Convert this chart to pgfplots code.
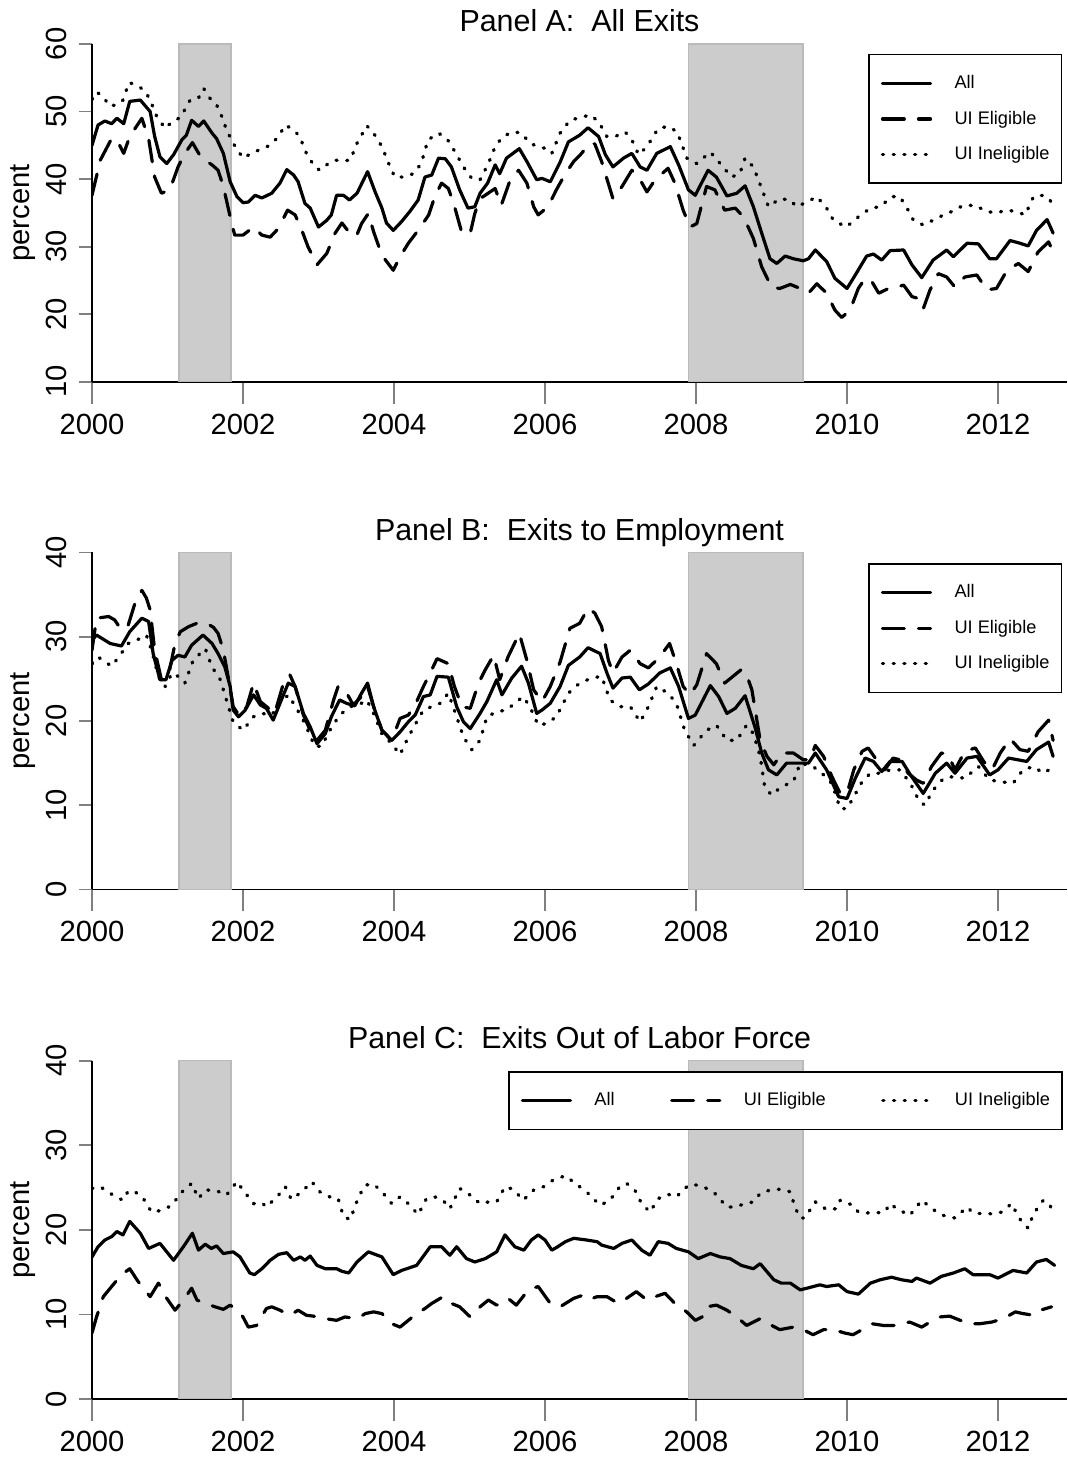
\documentclass[border=0pt]{standalone}
\usepackage{fontspec}
\setmainfont{Liberation Sans}
\usepackage{pgfplots}
\pgfplotsset{compat=1.18}

\pgfplotsset{
  rpanel/.style={
    scale only axis, width=487.5pt,
    xmin=2000, xmax=2012.914,
    axis x line*=bottom, axis y line*=left,
    axis line style={line width=0.9pt},
    tick align=outside,
    xtick={2000,2002,2004,2006,2008,2010,2012},
    xticklabels={2000,2002,2004,2006,2008,2010,2012},
    xtick style={line width=0.9pt, /pgfplots/major tick length=11pt},
    ytick style={line width=0.9pt, /pgfplots/major tick length=6.7pt},
    ticklabel style={font=\fontsize{14.6}{16}\selectfont},
    xticklabel style={anchor=north, inner sep=0pt},
    yticklabel style={rotate=90, anchor=south, inner sep=0pt},
    xticklabel shift=11.5pt, yticklabel shift=8.3pt,
    ylabel={percent},
    every axis y label/.style={at={(axis description cs:-0.0646,0.5)}, rotate=90, anchor=base, font=\fontsize{14.6}{16}\selectfont},
    title style={font=\fontsize{15.2}{17}\selectfont, at={(axis description cs:0.5,1)}, anchor=base, yshift=0pt, inner sep=0pt},
    legend cell align=left,
    legend image code/.code={\path[draw=none,fill=none] (0pt,-5pt) rectangle (36pt,5pt); \draw[##1] (0pt,0pt) -- (24pt,0pt);},
    legend style={draw=black, line width=0.8pt, fill=white, inner xsep=6pt, inner ysep=9.4pt, row sep=7.75pt, font=\fontsize{9.1}{10}\selectfont, nodes={inner sep=0pt}},
  },
  allline/.style={black, line width=1.6pt, line join=round, line cap=round},
  eligline/.style={black, line width=1.6pt, line join=round, line cap=round, dash pattern=on 10.9pt off 7.1pt},
  inelline/.style={black, line width=1.7pt, line join=round, line cap=round, dash pattern=on 0.5pt off 4.85pt},
  recess/.style={draw=black!27, fill=black!20, line width=0.8pt, forget plot},
}

\begin{document}
\begin{tikzpicture}
\useasboundingbox (0,0) rectangle (533.5pt,730pt);

% ---------------- Panel A
\begin{axis}[rpanel, at={(46pt,539.15pt)}, anchor=south west, height=168.85pt,
  ymin=10, ymax=60, ytick={10,20,30,40,50,60}, yticklabels={10,20,30,40,50,60},
  title={Panel A:\ \ All Exits},
  legend style={at={(0.7959,0.9707)}, anchor=north west}]
\addplot[recess] coordinates {(2001.15,10) (2001.15,60) (2001.84,60) (2001.84,10)} -- cycle;
\addplot[recess] coordinates {(2007.90,10) (2007.90,60) (2009.42,60) (2009.42,10)} -- cycle;
\addplot[allline] coordinates {
(2000.00,45.0)(2000.08,48.0)(2000.17,48.6)(2000.26,48.2)(2000.33,49.0)(2000.42,48.2)(2000.50,51.5)(2000.64,51.7)(2000.77,50.0)(2000.83,46.3)(2000.90,43.3)(2000.99,42.3)(2001.08,43.6)(2001.19,45.8)(2001.25,46.5)(2001.32,48.7)(2001.41,47.8)(2001.48,48.6)(2001.59,46.8)(2001.65,46.0)(2001.74,43.8)(2001.83,39.6)(2001.92,37.4)(2002.00,36.5)(2002.07,36.6)(2002.16,37.6)(2002.25,37.2)(2002.38,37.9)(2002.49,39.4)(2002.58,41.4)(2002.67,40.6)(2002.73,39.6)(2002.82,36.4)(2002.89,35.7)(2003.00,32.9)(2003.11,33.9)(2003.17,34.7)(2003.24,37.6)(2003.33,37.6)(2003.41,36.9)(2003.51,37.9)(2003.65,41.1)(2003.75,38.1)(2003.84,35.7)(2003.90,33.5)(2003.99,32.4)(2004.10,33.7)(2004.21,35.2)(2004.32,36.9)(2004.41,40.3)(2004.50,40.6)(2004.59,43.1)(2004.68,43.0)(2004.76,41.8)(2004.87,38.4)(2004.98,35.7)(2005.07,35.9)(2005.14,37.9)(2005.24,39.4)(2005.34,42.1)(2005.40,40.8)(2005.49,43.1)(2005.66,44.5)(2005.76,42.6)(2005.89,39.9)(2005.96,40.1)(2006.07,39.6)(2006.20,42.5)(2006.31,45.5)(2006.46,46.5)(2006.57,47.6)(2006.71,46.3)(2006.80,43.6)(2006.90,41.8)(2007.04,43.1)(2007.15,43.8)(2007.26,41.8)(2007.35,41.3)(2007.48,43.8)(2007.66,44.8)(2007.77,42.1)(2007.90,38.4)(2007.99,37.6)(2008.16,41.3)(2008.27,40.3)(2008.41,37.5)(2008.54,37.9)(2008.65,39.0)(2008.76,35.9)(2008.87,32.0)(2008.98,28.2)(2009.07,27.5)(2009.18,28.6)(2009.29,28.2)(2009.42,27.9)(2009.49,28.2)(2009.58,29.5)(2009.73,27.8)(2009.84,25.3)(2010.00,23.8)(2010.11,25.8)(2010.26,28.6)(2010.35,28.9)(2010.46,28.0)(2010.57,29.4)(2010.75,29.5)(2010.86,27.3)(2010.99,25.4)(2011.14,28.0)(2011.32,29.5)(2011.41,28.5)(2011.59,30.5)(2011.74,30.4)(2011.89,28.2)(2011.98,28.2)(2012.16,30.9)(2012.29,30.5)(2012.40,30.1)(2012.51,32.4)(2012.65,34.0)(2012.73,32.0)
};
\addlegendentry{All}
\addplot[eligline] coordinates {
(2000.00,37.6)(2000.11,42.8)(2000.26,46.0)(2000.33,45.8)(2000.42,43.8)(2000.50,46.3)(2000.66,49.0)(2000.75,46.0)(2000.83,40.3)(2000.92,37.9)(2001.03,38.4)(2001.14,41.8)(2001.23,43.8)(2001.33,45.4)(2001.45,43.1)(2001.59,42.1)(2001.67,41.3)(2001.74,38.9)(2001.83,34.4)(2001.89,31.7)(2002.00,31.7)(2002.14,32.9)(2002.25,31.7)(2002.36,31.4)(2002.47,32.7)(2002.59,35.4)(2002.69,34.7)(2002.78,32.4)(2002.86,30.0)(2002.98,27.3)(2003.11,29.0)(2003.22,32.0)(2003.31,33.5)(2003.40,32.2)(2003.50,31.5)(2003.57,33.4)(2003.66,34.9)(2003.73,32.2)(2003.84,28.7)(2003.99,26.5)(2004.08,28.5)(2004.19,30.5)(2004.34,32.7)(2004.46,34.7)(2004.54,37.4)(2004.63,39.4)(2004.72,38.6)(2004.79,36.4)(2004.90,32.0)(2005.01,32.0)(2005.07,34.9)(2005.14,37.1)(2005.34,38.6)(2005.42,36.1)(2005.54,39.9)(2005.65,41.3)(2005.76,39.4)(2005.85,35.9)(2005.91,34.7)(2006.04,35.9)(2006.15,38.4)(2006.27,40.8)(2006.38,42.6)(2006.46,43.5)(2006.60,45.3)(2006.66,45.2)(2006.75,42.6)(2006.90,37.1)(2007.02,38.9)(2007.15,41.3)(2007.24,40.3)(2007.35,38.1)(2007.46,39.9)(2007.63,41.6)(2007.72,39.4)(2007.83,35.4)(2007.92,32.9)(2008.01,33.4)(2008.14,38.9)(2008.25,38.4)(2008.38,35.4)(2008.52,35.7)(2008.63,34.4)(2008.76,31.2)(2008.87,27.0)(2009.00,24.0)(2009.11,23.8)(2009.25,24.4)(2009.38,23.8)(2009.49,23.1)(2009.60,24.5)(2009.73,23.1)(2009.84,20.6)(2009.93,19.5)(2010.04,20.6)(2010.15,23.8)(2010.24,25.3)(2010.33,24.8)(2010.42,23.1)(2010.55,23.8)(2010.66,24.0)(2010.75,24.3)(2010.86,22.6)(2010.95,22.3)(2011.01,20.8)(2011.10,23.6)(2011.21,26.0)(2011.32,25.5)(2011.43,24.0)(2011.56,25.5)(2011.72,25.8)(2011.85,23.6)(2011.98,23.8)(2012.12,26.5)(2012.27,27.5)(2012.40,26.3)(2012.53,29.2)(2012.67,30.7)(2012.73,29.2)
};
\addlegendentry{UI Eligible}
\addplot[inelline] coordinates {
(2000.00,51.8)(2000.06,52.9)(2000.15,52.2)(2000.23,50.8)(2000.33,51.0)(2000.41,51.7)(2000.49,54.3)(2000.59,53.9)(2000.70,53.1)(2000.77,51.7)(2000.86,49.2)(2000.97,47.5)(2001.06,48.5)(2001.17,49.1)(2001.30,51.7)(2001.41,52.0)(2001.48,53.4)(2001.56,52.0)(2001.65,51.0)(2001.73,49.0)(2001.78,47.3)(2001.87,45.3)(2002.00,43.1)(2002.11,43.8)(2002.25,44.5)(2002.36,45.0)(2002.47,46.3)(2002.56,48.0)(2002.67,47.3)(2002.75,46.3)(2002.84,43.8)(2002.95,41.8)(2003.02,41.3)(2003.13,42.3)(2003.22,42.8)(2003.33,42.7)(2003.42,42.8)(2003.51,45.3)(2003.64,47.9)(2003.73,46.8)(2003.84,44.8)(2003.93,42.3)(2004.01,40.3)(2004.12,40.3)(2004.26,40.8)(2004.36,42.3)(2004.45,45.8)(2004.59,46.8)(2004.70,46.0)(2004.81,44.0)(2004.92,41.8)(2005.03,40.1)(2005.14,39.9)(2005.25,42.3)(2005.34,44.8)(2005.44,46.3)(2005.58,47.0)(2005.69,46.8)(2005.80,45.3)(2005.91,44.8)(2006.02,44.5)(2006.09,43.8)(2006.20,46.8)(2006.33,48.7)(2006.46,49.1)(2006.60,49.5)(2006.71,48.5)(2006.82,46.3)(2006.93,46.3)(2007.06,47.0)(2007.15,45.8)(2007.24,43.6)(2007.35,44.8)(2007.50,47.5)(2007.63,47.8)(2007.75,47.0)(2007.88,43.1)(2008.01,42.3)(2008.19,44.0)(2008.32,42.3)(2008.47,40.3)(2008.58,40.8)(2008.65,43.1)(2008.76,41.8)(2008.87,38.6)(2008.96,35.9)(2009.11,37.1)(2009.25,36.9)(2009.33,35.9)(2009.47,36.6)(2009.60,37.4)(2009.73,35.7)(2009.82,33.9)(2009.99,32.9)(2010.15,34.4)(2010.31,35.7)(2010.44,35.9)(2010.59,37.4)(2010.70,37.4)(2010.81,35.4)(2010.88,33.9)(2011.01,33.2)(2011.14,33.9)(2011.28,34.7)(2011.39,35.2)(2011.54,36.1)(2011.70,36.1)(2011.85,35.2)(2011.98,35.0)(2012.12,35.4)(2012.23,35.2)(2012.36,34.7)(2012.47,37.4)(2012.60,37.6)(2012.69,36.9)(2012.73,35.7)
};
\addlegendentry{UI Ineligible}
\end{axis}

% ---------------- Panel B
\begin{axis}[rpanel, at={(46pt,285.25pt)}, anchor=south west, height=168.5pt,
  ymin=0, ymax=40, ytick={0,10,20,30,40}, yticklabels={0,10,20,30,40},
  title={Panel B:\ \ Exits to Employment},
  legend style={at={(0.7959,0.9688)}, anchor=north west}]
\addplot[recess] coordinates {(2001.15,0) (2001.15,40) (2001.84,40) (2001.84,0)} -- cycle;
\addplot[recess] coordinates {(2007.90,0) (2007.90,40) (2009.42,40) (2009.42,0)} -- cycle;
\addplot[allline] coordinates {
(2000.00,29.6)(2000.06,30.2)(2000.24,29.2)(2000.39,28.9)(2000.50,30.6)(2000.66,32.2)(2000.75,31.8)(2000.81,28.0)(2000.90,24.9)(2000.98,24.9)(2001.06,27.2)(2001.14,27.8)(2001.23,27.6)(2001.32,29.0)(2001.47,30.2)(2001.59,29.2)(2001.67,28.0)(2001.76,26.4)(2001.83,24.1)(2001.87,21.3)(2001.94,20.5)(2002.03,21.3)(2002.14,23.1)(2002.23,21.9)(2002.31,21.5)(2002.40,20.1)(2002.49,22.1)(2002.60,24.5)(2002.69,24.1)(2002.80,20.9)(2002.89,19.3)(2002.98,17.3)(2003.09,18.5)(2003.17,20.5)(2003.28,22.5)(2003.37,22.1)(2003.48,21.8)(2003.57,23.3)(2003.65,24.5)(2003.73,21.7)(2003.84,18.9)(2003.97,17.7)(2004.08,18.7)(2004.19,19.9)(2004.28,20.7)(2004.39,22.9)(2004.48,23.1)(2004.57,25.3)(2004.72,25.2)(2004.83,21.7)(2004.92,19.9)(2005.01,19.1)(2005.14,20.9)(2005.23,22.3)(2005.36,24.9)(2005.43,23.1)(2005.56,25.1)(2005.69,26.5)(2005.78,24.5)(2005.89,20.9)(2005.96,21.3)(2006.07,22.1)(2006.20,24.1)(2006.31,26.6)(2006.46,27.6)(2006.57,28.7)(2006.73,28.0)(2006.82,25.7)(2006.90,23.9)(2007.02,25.1)(2007.13,25.2)(2007.25,23.7)(2007.37,24.4)(2007.52,25.7)(2007.66,26.3)(2007.77,24.1)(2007.90,20.3)(2007.99,20.7)(2008.19,24.2)(2008.30,22.9)(2008.41,20.9)(2008.52,21.5)(2008.65,23.0)(2008.78,19.3)(2008.87,16.2)(2008.96,14.2)(2009.07,13.6)(2009.20,15.0)(2009.38,15.0)(2009.49,15.0)(2009.58,16.2)(2009.73,14.2)(2009.89,11.0)(2010.00,10.8)(2010.11,13.2)(2010.24,15.6)(2010.35,15.2)(2010.46,14.0)(2010.57,15.2)(2010.73,15.2)(2010.84,13.6)(2011.01,11.4)(2011.17,13.8)(2011.32,15.0)(2011.43,13.8)(2011.59,15.6)(2011.72,15.8)(2011.89,13.6)(2012.00,14.2)(2012.14,15.6)(2012.38,15.2)(2012.51,16.6)(2012.67,17.5)(2012.73,15.8)
};
\addlegendentry{All}
\addplot[eligline] coordinates {
(2000.00,28.4)(2000.06,32.2)(2000.22,32.4)(2000.30,32.0)(2000.39,30.8)(2000.48,31.4)(2000.57,34.0)(2000.66,35.5)(2000.72,34.6)(2000.77,33.2)(2000.83,28.4)(2000.92,24.9)(2001.01,25.3)(2001.10,29.2)(2001.17,30.6)(2001.28,31.2)(2001.39,31.6)(2001.52,31.6)(2001.61,31.1)(2001.67,30.4)(2001.74,28.4)(2001.81,24.9)(2001.87,21.7)(2001.96,20.5)(2002.05,21.7)(2002.14,24.5)(2002.23,22.3)(2002.34,21.5)(2002.42,20.9)(2002.53,24.3)(2002.62,25.5)(2002.69,24.1)(2002.80,20.7)(2002.89,18.9)(2002.98,17.7)(2003.09,18.9)(2003.20,22.5)(2003.26,24.1)(2003.35,23.7)(2003.46,21.9)(2003.57,22.9)(2003.65,24.1)(2003.73,21.7)(2003.84,18.9)(2003.97,17.7)(2004.08,20.3)(2004.19,20.7)(2004.28,21.9)(2004.39,24.1)(2004.48,25.7)(2004.57,27.4)(2004.72,26.8)(2004.80,24.1)(2004.90,21.7)(2005.01,21.5)(2005.12,24.5)(2005.21,26.1)(2005.32,27.8)(2005.40,24.9)(2005.51,27.6)(2005.66,30.4)(2005.76,27.2)(2005.85,23.7)(2005.96,22.3)(2006.07,24.1)(2006.20,27.0)(2006.33,31.0)(2006.46,31.6)(2006.57,33.4)(2006.66,32.8)(2006.75,31.2)(2006.84,27.2)(2006.90,25.7)(2007.02,27.6)(2007.13,28.4)(2007.26,26.8)(2007.37,26.3)(2007.52,27.6)(2007.65,29.2)(2007.74,26.8)(2007.83,24.1)(2007.92,23.1)(2008.01,24.3)(2008.14,28.0)(2008.27,26.8)(2008.38,24.5)(2008.49,25.3)(2008.60,26.1)(2008.67,25.5)(2008.74,23.7)(2008.85,17.7)(2008.94,15.8)(2009.03,14.8)(2009.14,16.2)(2009.29,16.2)(2009.42,15.4)(2009.51,15.4)(2009.58,17.1)(2009.69,15.8)(2009.80,13.4)(2009.91,11.4)(2010.00,11.4)(2010.09,14.2)(2010.20,16.4)(2010.28,16.8)(2010.39,15.4)(2010.50,14.2)(2010.61,15.6)(2010.70,15.4)(2010.81,13.8)(2010.92,13.0)(2011.01,12.6)(2011.12,14.6)(2011.25,16.2)(2011.34,16.0)(2011.43,14.2)(2011.56,16.4)(2011.70,16.8)(2011.81,15.2)(2011.92,14.2)(2012.03,16.2)(2012.16,17.9)(2012.29,16.6)(2012.40,16.4)(2012.53,18.7)(2012.67,20.1)(2012.73,17.7)
};
\addlegendentry{UI Eligible}
\addplot[inelline] coordinates {
(2000.00,26.8)(2000.08,27.6)(2000.26,26.5)(2000.37,27.8)(2000.48,29.2)(2000.64,29.8)(2000.72,30.2)(2000.79,28.4)(2000.88,25.3)(2000.97,24.1)(2001.06,25.7)(2001.14,25.3)(2001.23,24.5)(2001.34,27.2)(2001.50,28.6)(2001.59,26.4)(2001.70,24.9)(2001.78,22.5)(2001.87,19.9)(2002.00,18.9)(2002.14,20.5)(2002.25,20.9)(2002.38,20.7)(2002.49,22.1)(2002.60,23.1)(2002.71,21.5)(2002.82,19.7)(2002.95,17.0)(2003.04,17.0)(2003.15,18.9)(2003.28,20.7)(2003.42,21.7)(2003.53,21.9)(2003.64,22.5)(2003.73,20.9)(2003.84,18.5)(2003.97,17.3)(2004.08,16.0)(2004.19,18.1)(2004.30,19.9)(2004.39,21.3)(2004.50,21.7)(2004.61,22.1)(2004.72,23.3)(2004.83,20.5)(2004.92,18.1)(2005.03,16.6)(2005.14,17.7)(2005.23,20.5)(2005.36,21.1)(2005.49,21.3)(2005.60,22.1)(2005.71,22.9)(2005.80,21.7)(2005.91,19.5)(2006.02,19.7)(2006.15,20.5)(2006.31,23.3)(2006.46,24.5)(2006.62,25.1)(2006.75,25.3)(2006.86,22.5)(2006.99,21.7)(2007.13,21.7)(2007.26,19.9)(2007.37,21.7)(2007.48,24.1)(2007.63,23.3)(2007.74,22.1)(2007.85,18.9)(2007.97,17.1)(2008.14,18.9)(2008.27,19.5)(2008.41,17.7)(2008.54,17.7)(2008.67,19.5)(2008.76,18.5)(2008.85,15.8)(2008.91,12.2)(2009.00,11.2)(2009.13,12.2)(2009.29,12.8)(2009.38,15.0)(2009.55,14.6)(2009.69,13.6)(2009.80,12.6)(2009.91,9.6)(2010.00,9.6)(2010.09,11.0)(2010.20,12.8)(2010.31,13.8)(2010.44,13.8)(2010.57,14.2)(2010.70,14.2)(2010.84,12.6)(2010.95,10.6)(2011.03,10.0)(2011.14,11.8)(2011.28,13.2)(2011.41,13.4)(2011.56,13.2)(2011.74,14.6)(2011.89,13.0)(2012.03,12.8)(2012.20,12.6)(2012.33,14.2)(2012.47,14.6)(2012.60,13.8)(2012.71,14.4)
};
\addlegendentry{UI Ineligible}
\end{axis}

% ---------------- Panel C
\begin{axis}[rpanel, at={(46pt,30.5pt)}, anchor=south west, height=169.15pt,
  ymin=0, ymax=40, ytick={0,10,20,30,40}, yticklabels={0,10,20,30,40},
  title={Panel C:\ \ Exits Out of Labor Force},
  legend columns=3,
  legend style={at={(0.4267,0.9695)}, anchor=north west}]
\addplot[recess] coordinates {(2001.15,0) (2001.15,40) (2001.84,40) (2001.84,0)} -- cycle;
\addplot[recess] coordinates {(2007.90,0) (2007.90,40) (2009.42,40) (2009.42,0)} -- cycle;
\addplot[allline] coordinates {
(2000.00,16.8)(2000.08,18.0)(2000.17,18.8)(2000.26,19.2)(2000.33,19.8)(2000.41,19.4)(2000.50,21.0)(2000.64,19.6)(2000.75,17.8)(2000.90,18.4)(2001.08,16.4)(2001.21,18.0)(2001.33,19.6)(2001.41,17.6)(2001.50,18.3)(2001.58,17.8)(2001.65,18.1)(2001.74,17.2)(2001.87,17.4)(2001.96,16.8)(2002.09,14.9)(2002.15,14.7)(2002.25,15.4)(2002.36,16.4)(2002.47,17.1)(2002.58,17.3)(2002.67,16.4)(2002.76,16.8)(2002.82,16.4)(2002.89,16.9)(2002.98,15.8)(2003.09,15.4)(2003.24,15.4)(2003.31,15.1)(2003.40,14.9)(2003.51,16.2)(2003.66,17.4)(2003.84,16.8)(2003.99,14.7)(2004.10,15.2)(2004.30,15.8)(2004.48,18.0)(2004.63,18.0)(2004.74,17.0)(2004.83,18.0)(2004.96,16.6)(2005.07,16.2)(2005.21,16.6)(2005.36,17.4)(2005.47,19.4)(2005.60,18.0)(2005.72,17.6)(2005.82,18.8)(2005.91,19.4)(2006.00,18.8)(2006.09,17.6)(2006.15,17.9)(2006.27,18.6)(2006.38,19.0)(2006.55,18.8)(2006.69,18.6)(2006.75,18.2)(2006.91,17.8)(2007.02,18.4)(2007.15,18.8)(2007.28,17.6)(2007.39,17.0)(2007.50,18.6)(2007.63,18.4)(2007.74,17.8)(2007.90,17.4)(2008.03,16.6)(2008.19,17.2)(2008.32,16.8)(2008.45,16.6)(2008.60,15.8)(2008.76,15.4)(2008.85,16.0)(2009.03,14.1)(2009.13,13.7)(2009.25,13.7)(2009.38,12.9)(2009.47,13.1)(2009.64,13.5)(2009.73,13.3)(2009.89,13.5)(2010.00,12.7)(2010.15,12.4)(2010.31,13.7)(2010.44,14.1)(2010.59,14.4)(2010.72,14.1)(2010.86,13.9)(2010.92,14.3)(2011.10,13.7)(2011.25,14.5)(2011.41,14.9)(2011.56,15.4)(2011.67,14.7)(2011.89,14.7)(2012.00,14.3)(2012.20,15.2)(2012.38,14.9)(2012.51,16.2)(2012.64,16.5)(2012.75,15.8)
};
\addlegendentry{All\hspace*{27.75pt}}
\addplot[eligline] coordinates {
(2000.00,7.8)(2000.06,9.7)(2000.15,12.1)(2000.26,13.3)(2000.39,14.7)(2000.50,15.4)(2000.61,13.9)(2000.77,12.1)(2000.88,13.7)(2000.99,11.9)(2001.10,10.5)(2001.21,11.7)(2001.32,13.1)(2001.39,11.7)(2001.50,11.3)(2001.63,10.9)(2001.74,10.6)(2001.83,11.1)(2001.92,10.5)(2002.00,9.7)(2002.07,8.5)(2002.18,8.7)(2002.31,10.7)(2002.38,10.9)(2002.49,10.5)(2002.62,9.9)(2002.73,10.5)(2002.84,9.9)(2002.93,9.8)(2003.09,9.5)(2003.24,9.3)(2003.35,9.7)(2003.51,9.5)(2003.62,10.1)(2003.73,10.3)(2003.84,10.1)(2003.97,8.9)(2004.08,8.5)(2004.19,9.3)(2004.30,10.1)(2004.41,10.7)(2004.50,11.3)(2004.65,12.1)(2004.76,11.3)(2004.87,10.9)(2005.01,9.7)(2005.14,10.9)(2005.25,11.7)(2005.36,11.1)(2005.51,11.9)(2005.62,11.1)(2005.78,12.9)(2005.91,13.3)(2006.07,11.3)(2006.20,10.9)(2006.38,11.9)(2006.51,12.3)(2006.60,11.8)(2006.69,12.1)(2006.82,12.1)(2006.97,11.3)(2007.08,11.9)(2007.21,12.7)(2007.35,11.7)(2007.46,12.1)(2007.59,12.5)(2007.72,11.3)(2007.83,10.7)(2007.99,9.3)(2008.08,9.7)(2008.14,10.9)(2008.27,11.1)(2008.41,10.5)(2008.54,9.7)(2008.67,8.7)(2008.85,9.5)(2008.96,8.9)(2009.11,8.2)(2009.29,8.5)(2009.42,8.2)(2009.55,7.6)(2009.69,8.2)(2009.82,8.2)(2009.97,7.8)(2010.08,7.6)(2010.20,8.2)(2010.33,8.9)(2010.48,8.7)(2010.66,8.7)(2010.83,9.1)(2010.99,8.5)(2011.10,9.1)(2011.23,9.7)(2011.36,9.8)(2011.50,9.3)(2011.63,8.9)(2011.76,8.9)(2011.92,9.1)(2012.07,9.5)(2012.23,10.3)(2012.33,10.1)(2012.47,9.9)(2012.56,10.5)(2012.71,10.9)
};
\addlegendentry{UI Eligible\hspace*{27.75pt}}
\addplot[inelline] coordinates {
(2000.00,24.9)(2000.11,25.1)(2000.28,24.1)(2000.41,23.5)(2000.48,24.6)(2000.57,24.5)(2000.68,23.7)(2000.79,22.1)(2000.92,22.3)(2001.06,22.9)(2001.17,24.3)(2001.32,25.5)(2001.41,23.7)(2001.50,24.7)(2001.63,24.7)(2001.78,24.1)(2001.92,25.7)(2002.00,24.7)(2002.14,23.1)(2002.25,23.2)(2002.31,22.7)(2002.47,24.1)(2002.56,25.1)(2002.64,23.6)(2002.78,24.5)(2002.91,25.7)(2003.02,24.5)(2003.15,23.9)(2003.26,23.7)(2003.33,21.6)(2003.42,21.2)(2003.53,23.9)(2003.62,25.3)(2003.73,25.4)(2003.84,24.5)(2003.97,23.1)(2004.08,23.9)(2004.19,23.1)(2004.32,21.8)(2004.43,23.7)(2004.54,23.9)(2004.65,23.5)(2004.74,22.5)(2004.87,24.9)(2005.01,24.1)(2005.14,23.1)(2005.25,23.3)(2005.36,23.3)(2005.47,25.1)(2005.58,24.8)(2005.71,23.5)(2005.85,24.7)(2005.98,25.1)(2006.11,25.9)(2006.27,26.4)(2006.40,25.5)(2006.55,24.5)(2006.73,22.9)(2006.86,23.5)(2006.99,25.1)(2007.08,25.5)(2007.19,24.7)(2007.28,23.1)(2007.39,22.1)(2007.50,23.7)(2007.63,24.2)(2007.74,23.9)(2007.90,25.3)(2008.03,25.3)(2008.14,24.9)(2008.25,24.3)(2008.41,22.7)(2008.52,22.7)(2008.65,23.1)(2008.76,23.3)(2008.85,24.3)(2008.98,24.7)(2009.11,24.8)(2009.25,24.5)(2009.31,22.7)(2009.38,21.4)(2009.44,21.4)(2009.58,23.3)(2009.73,22.4)(2009.86,22.5)(2009.91,23.5)(2010.08,22.9)(2010.15,22.1)(2010.26,22.0)(2010.37,22.0)(2010.50,22.1)(2010.57,23.1)(2010.66,22.5)(2010.83,21.7)(2010.99,23.5)(2011.10,22.7)(2011.19,22.1)(2011.28,21.7)(2011.43,21.4)(2011.59,22.7)(2011.67,22.0)(2011.80,21.9)(2011.94,21.9)(2012.05,22.1)(2012.18,23.1)(2012.25,21.9)(2012.31,21.0)(2012.40,20.2)(2012.47,21.9)(2012.60,23.5)(2012.69,22.9)(2012.73,21.9)
};
\addlegendentry{UI Ineligible}
\end{axis}
\end{tikzpicture}
\end{document}
